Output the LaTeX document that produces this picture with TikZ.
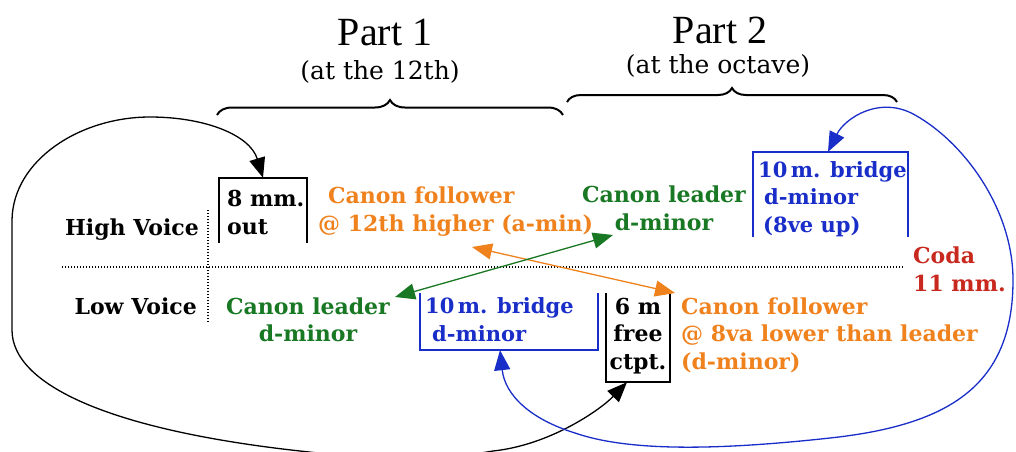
\documentclass[tikz,border=0pt]{standalone}
\usepackage{fontspec}
\setmainfont{DejaVu Serif}
\newfontfamily\titlefont{Liberation Serif}
\usetikzlibrary{arrows.meta,decorations.pathreplacing,calc}
\definecolor{cor}{RGB}{240,130,30}
\definecolor{cgr}{RGB}{25,120,35}
\definecolor{cbl}{RGB}{25,45,200}
\definecolor{cre}{RGB}{200,40,30}
\tikzset{
  lab/.style={font=\fontsize{22}{27.5}\selectfont\bfseries, inner sep=0pt},
  smalllab/.style={font=\fontsize{21}{27.5}\selectfont\bfseries, inner sep=0pt},
  titletext/.style={font=\titlefont\fontsize{40}{44}\selectfont, inner sep=0pt},
  subtext/.style={font=\fontsize{25}{28}\selectfont, inner sep=0pt},
  frame/.style={inner sep=0pt},
  openline/.style={line width=1.5pt},
  conn/.style={line width=1.3pt},
  bracestyle/.style={line width=2pt, decorate},
  dotline/.style={line width=1.2pt, dash pattern=on 1.2pt off 1.8pt},
  >={Triangle[length=20pt,width=16pt]},
}
\begin{document}
\begin{tikzpicture}[x=1pt,y=-1pt]
\useasboundingbox (0,0) rectangle (1016,451);
\fill[white] (0,0) rectangle (1016,451);

% titles
\node[titletext, anchor=base] (p1) at (385,45) {Part 1};
\node[titletext, anchor=base] (p2) at (720,43) {Part 2};
\node[subtext] (s1) at (380,72) {(at the 12th)};
\node[subtext] (s2) at (718,66) {(at the octave)};

% braces
\coordinate (b1l) at (217,115);
\coordinate (b1r) at (563,115);
\coordinate (b2l) at (567,102);
\coordinate (b2r) at (897,102);
\draw[bracestyle, decoration={brace, amplitude=15pt}] (b1l) -- (b1r);
\draw[bracestyle, decoration={brace, amplitude=14pt}] (b2l) -- (b2r);

% dotted grid
\coordinate (hl1) at (62,267);
\coordinate (hl2) at (903,267);
\coordinate (vl1) at (208,210);
\coordinate (vl2) at (208,323);
\draw[dotline] (hl1) -- (hl2);
\draw[dotline] (vl1) -- (vl2);

% voice labels
\node[lab, anchor=base east] (hv) at (199,235) {High Voice};
\node[lab, anchor=base east] (lv) at (197,314) {Low Voice};

% boxes
\node[frame, minimum width=88pt, minimum height=65pt] (eightbox) at (263,210.5) {};
\draw[openline] (eightbox.south west) -- (eightbox.north west) -- (eightbox.north east) -- (eightbox.south east);
\node[lab, anchor=north west, align=left] (eight) at (227,190) {8 mm.\\out};

\node[frame, minimum width=155pt, minimum height=85pt] (bhibox) at (830.5,194.5) {};
\draw[openline, draw=cbl] (bhibox.south west) -- (bhibox.north west) -- (bhibox.north east) -- (bhibox.south east);
\node[smalllab, text=cbl, anchor=north west, align=left] (bhi) at (758,161) {10\,m. bridge\\\hspace*{6pt}d-minor\\\hspace*{5pt}(8ve up)};

\node[frame, minimum width=178pt, minimum height=57pt] (blobox) at (509,321.5) {};
\draw[openline, draw=cbl] (blobox.north west) -- (blobox.south west) -- (blobox.south east) -- (blobox.north east);
\node[smalllab, text=cbl, anchor=north west, align=left] (blo) at (425,297.5) {10\,m. bridge\\\hspace*{7pt}d-minor};

\node[frame, minimum width=64pt, minimum height=89pt] (sixbox) at (638,337.5) {};
\draw[openline] (sixbox.north west) -- (sixbox.south west) -- (sixbox.south east) -- (sixbox.north east);
\node[lab, anchor=north, align=center] (six) at (638,297.5) {6 m\\free\\ctpt.};

% other labels
\node[lab, text=cor, anchor=north west, align=left] (fhi) at (318,187) {\hspace*{10pt}Canon follower\\@ 12th higher (a-min)};
\node[lab, text=cgr, anchor=north, align=center] (lhi) at (664,186) {Canon leader\\d-minor};
\node[lab, text=cre, anchor=north west, align=left] (coda) at (913,247) {Coda\\11 mm.};
\node[lab, text=cgr, anchor=north, align=center] (llo) at (308,297.5) {Canon leader\\d-minor};
\node[lab, text=cor, anchor=north west, align=left] (flo) at (681,297.5) {Canon follower\\@ 8va lower than leader\\(d-minor)};

% straight connectors
\coordinate (o1) at (472,247);
\coordinate (o2) at (675,293);
\coordinate (g1) at (395,297);
\coordinate (g2) at (613,235);
\draw[conn, draw=cor, <->] (o1) -- (o2);
\draw[conn, draw=cgr, <->] (g1) -- (g2);

% curved connectors
\begin{scope}
\clip (0,0) rectangle (1016,451);
\draw[conn, <->] (eightbox.north) .. controls (250,135) and (205,117) .. (150,117)
  .. controls (80,117) and (13,160) .. (12,220) -- (12,330)
  .. controls (12,385) and (110,430) .. (300,451)
  .. controls (380,460) and (430,462) .. (493,451)
  .. controls (550,445) and (600,410) .. ($(sixbox.south)+(-11,0)$);
\draw[conn, draw=cbl, <->] ($(bhibox.north)+(-2.5,0)$) .. controls (845,118) and (880,95) .. (915,115)
  .. controls (965,143) and (1013,210) .. (1013,280)
  .. controls (1013,385) and (950,425) .. (830,438)
  .. controls (720,450) and (630,452) .. (575,433)
  .. controls (530,419) and (505,395) .. ($(blobox.south)+(-9,0)$);
\end{scope}
\end{tikzpicture}
\end{document}
